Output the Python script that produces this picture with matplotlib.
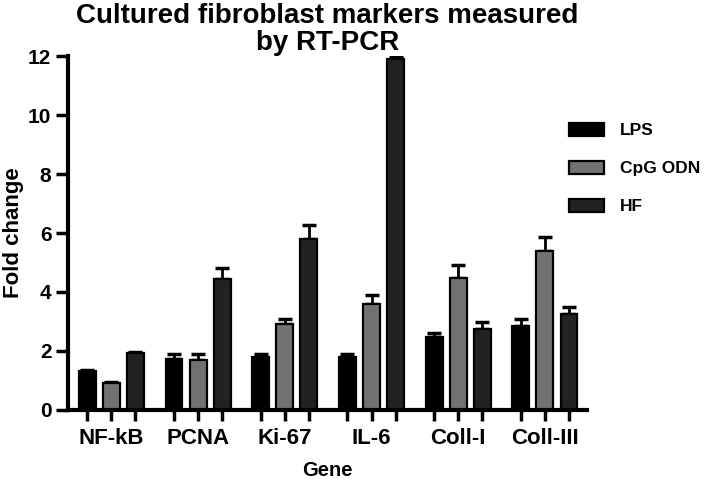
import numpy as np
import matplotlib
matplotlib.use('Agg')
import matplotlib.pyplot as plt

plt.rcParams['font.family'] = ['Liberation Sans', 'DejaVu Sans']
plt.rcParams['font.weight'] = 'bold'

genes = ['NF-kB', 'PCNA', 'Ki-67', 'IL-6', 'Coll-I', 'Coll-III']
series = ['LPS', 'CpG ODN', 'HF']
lps = [1.33, 1.74, 1.78, 1.81, 2.49, 2.86]
lps_err = [0.03, 0.17, 0.10, 0.10, 0.13, 0.24]
cpg = [0.92, 1.70, 2.90, 3.60, 4.48, 5.40]
cpg_err = [0.03, 0.20, 0.20, 0.30, 0.44, 0.45]
hf = [1.94, 4.45, 5.80, 11.90, 2.73, 3.27]
hf_err = [0.04, 0.38, 0.47, 0.10, 0.24, 0.21]
colors = ['#000000', '#727272', '#222222']

fig = plt.figure(figsize=(7.09, 4.88), dpi=100)
ax = fig.add_axes([0.096, 0.16, 0.732, 0.725])

group_gap = 3.6
centers = np.arange(len(genes)) * group_gap
width = 0.7
bar_pos = []
for i, (vals, errs, col, name) in enumerate(zip([lps, cpg, hf], [lps_err, cpg_err, hf_err], colors, series)):
    x = centers + (i - 1)
    if i != 1:
        bar_pos.extend(x)
    ax.bar(x, vals, width, color=col, edgecolor='black', linewidth=1.6, label=name, zorder=2)
    ax.errorbar(x, vals, yerr=[np.zeros(len(errs)), errs], fmt='none', ecolor='black',
                elinewidth=2, capsize=5, capthick=2.5, zorder=1)

ax.set_xlim(-1.8, centers[-1] + 1.75)
ax.set_ylim(0, 12)
ax.set_yticks([0, 2, 4, 6, 8, 10, 12])

# group labels on the middle bar ticks, side bars get unlabeled minor ticks
ax.set_xticks(centers)
ax.set_xticklabels(genes)
ax.set_xticks(sorted(bar_pos), minor=True)
ax.tick_params(axis='x', which='both', length=8, width=2.5, direction='out')
ax.tick_params(axis='x', which='major', pad=5, labelsize=16)
ax.tick_params(axis='y', length=9, width=2.5, labelsize=15, pad=3)

for s in ['top', 'right']:
    ax.spines[s].set_visible(False)
for s in ['left', 'bottom']:
    ax.spines[s].set_linewidth(3)

for lbl in ax.get_yticklabels() + ax.get_xticklabels():
    lbl.set_fontweight('bold')

ax.set_ylabel('Fold change', fontsize=16, fontweight='bold', labelpad=3)
ax.set_xlabel('Gene', fontsize=14.5, fontweight='bold', labelpad=9)
ax.set_title('Cultured fibroblast markers measured\nby RT-PCR', fontsize=20,
             fontweight='bold', linespacing=1.05, pad=0)

leg = ax.legend(loc='upper left', bbox_to_anchor=(0.935, 0.855), frameon=False,
                fontsize=12.5, handlelength=2.0, handleheight=0.75,
                labelspacing=1.3, handletextpad=0.95)
for t in leg.get_texts():
    t.set_fontweight('bold')

fig.savefig('out.png', dpi=100)
